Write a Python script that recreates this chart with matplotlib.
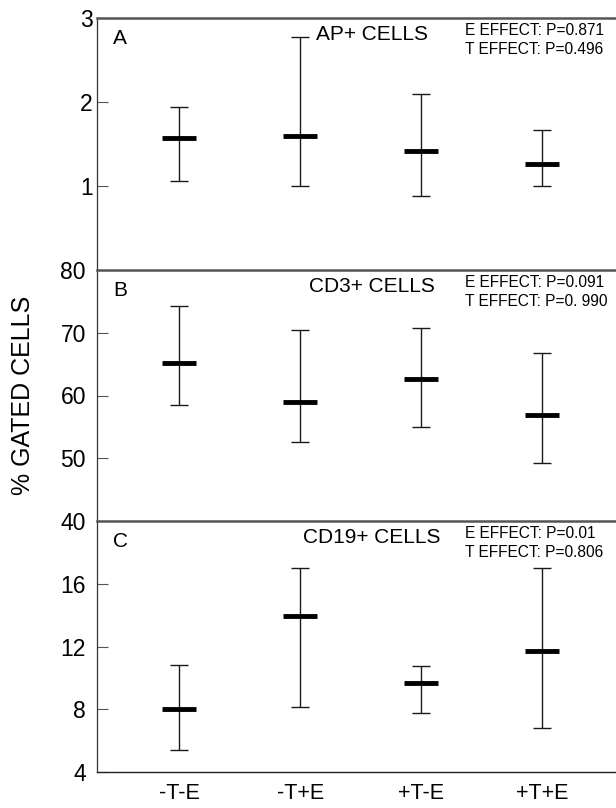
import numpy as np
import matplotlib
matplotlib.use("Agg")
import matplotlib.pyplot as plt

plt.rcParams['font.family'] = ['Liberation Sans', 'DejaVu Sans']

# Data
groups = ["-T-E", "-T+E", "+T-E", "+T+E"]

ap_mean = [1.57, 1.60, 1.42, 1.26]
ap_low = [1.06, 1.00, 0.88, 1.00]
ap_high = [1.94, 2.77, 2.09, 1.67]

cd3_mean = [65.2, 59.0, 62.7, 56.9]
cd3_low = [58.5, 52.6, 55.0, 49.2]
cd3_high = [74.3, 70.4, 70.8, 66.7]

cd19_mean = [8.0, 13.95, 9.7, 11.72]
cd19_low = [5.4, 8.15, 7.77, 6.83]
cd19_high = [10.85, 17.0, 10.78, 17.0]

panel_letters = ["A", "B", "C"]
panel_titles = ["AP+ CELLS", "CD3+ CELLS", "CD19+ CELLS"]
p_texts = ["E EFFECT: P=0.871\nT EFFECT: P=0.496",
           "E EFFECT: P=0.091\nT EFFECT: P=0. 990",
           "E EFFECT: P=0.01\nT EFFECT: P=0.806"]
ylims = [(0, 3), (40, 80), (4, 20)]
yticks = [[1, 2, 3], [40, 50, 60, 70, 80], [4, 8, 12, 16]]

panels = [(ap_mean, ap_low, ap_high),
          (cd3_mean, cd3_low, cd3_high),
          (cd19_mean, cd19_low, cd19_high)]

fig = plt.figure(figsize=(6.16, 8.08), dpi=100)

left = 97 / 616
width = 1 - left
bottoms = [(808 - 270) / 808, (808 - 521) / 808, 36 / 808]
heights = [252 / 808, 251 / 808, 251 / 808]
label_pads = [3, 8, 8]

x = np.arange(1, 5)

for i, (mean, low, high) in enumerate(panels):
    ax = fig.add_axes([left, bottoms[i], width, heights[i]])
    mean = np.array(mean)
    yerr = [mean - np.array(low), np.array(high) - mean]
    ax.errorbar(x, mean, yerr=yerr, fmt="none", ecolor="#1a1a1a",
                elinewidth=1.0, capsize=6.7, capthick=1.0)
    ax.hlines(mean, x - 0.14, x + 0.14, colors="black", linewidth=3.5)

    ax.set_xlim(0.322, 4.61)
    ax.set_ylim(*ylims[i])
    ax.set_yticks(yticks[i])
    ax.tick_params(axis="y", direction="in", length=8, width=0.8,
                   color="#555555", labelsize=16.5, pad=label_pads[i])

    ax.spines["right"].set_visible(False)
    ax.spines["top"].set_color("#555555")
    ax.spines["top"].set_linewidth(1.8)
    ax.spines["left"].set_color("#333333")
    ax.spines["left"].set_linewidth(0.9)
    if i < 2:
        ax.spines["bottom"].set_visible(False)
        ax.set_xticks([])
    else:
        ax.spines["bottom"].set_color("#222222")
        ax.spines["bottom"].set_linewidth(1.0)
        ax.set_xticks(x)
        ax.set_xticklabels(groups)
        ax.tick_params(axis="x", length=0, labelsize=15.5, pad=8)

    ax.text((113 - 97) / 519, 1 - 21 / 252, panel_letters[i], transform=ax.transAxes,
            fontsize=15, ha="left", va="center")
    ax.text((372 - 97) / 519, 1 - 17 / 252, panel_titles[i], transform=ax.transAxes,
            fontsize=15, ha="center", va="center")
    ax.text((465 - 97) / 519, 1 - 5 / 252, p_texts[i], transform=ax.transAxes,
            fontsize=11.2, ha="left", va="top", linespacing=1.3)

fig.text(23 / 616, 1 - 395 / 808, "% GATED CELLS", rotation=90,
         fontsize=18, ha="center", va="center")

fig.savefig("out.png", dpi=100)
